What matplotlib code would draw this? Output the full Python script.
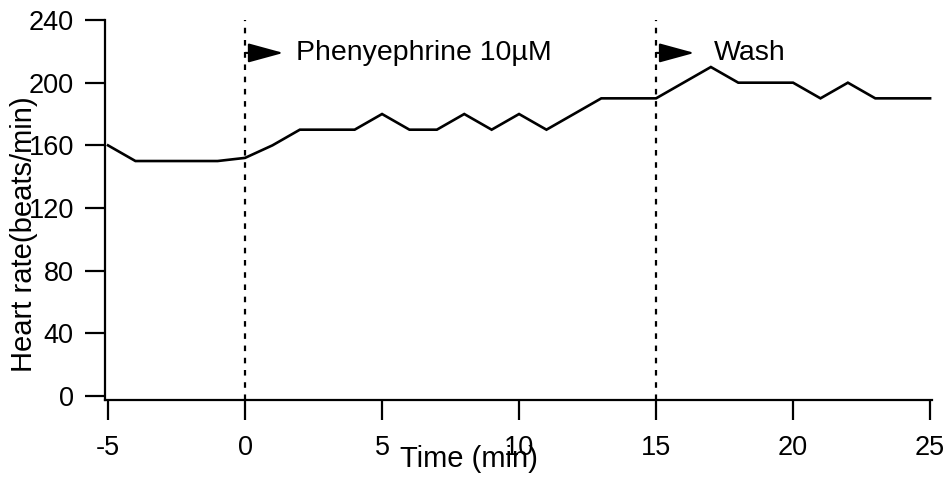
'''Heart rate response to phenylephrine'''

import matplotlib
matplotlib.use('Agg')
import matplotlib.pyplot as plt

plt.rcParams['font.family'] = ['Liberation Sans', 'DejaVu Sans']

# time in minutes, one sample per minute
time_min = list(range(-5, 26))
heart_rate = [160, 150, 150, 150, 150, 152, 160, 170, 170, 170,
              180, 170, 170, 180, 170, 180, 170, 180, 190, 190,
              190, 200, 210, 200, 200, 200, 190, 200, 190, 190, 190]

# events: (time, label, text offset in min)
event_times = [0, 15]
event_labels = ['Phenyephrine 10\u00b5M', 'Wash']
label_offsets = [1.85, 2.1]
arrow_len = 1.4
label_y = 219

x_ticks = [-5, 0, 5, 10, 15, 20, 25]
y_ticks = [0, 40, 80, 120, 160, 200, 240]

fig = plt.figure(figsize=(9.52, 4.82), dpi=100)
ax = fig.add_axes([0.1103, 0.170, 0.979 - 0.1103, 0.9585 - 0.170])

ax.plot(time_min, heart_rate, color='black', lw=1.9, solid_joinstyle='miter')

for t, lab, off in zip(event_times, event_labels, label_offsets):
    ax.plot([t, t], [-2.55, 240], color='black', lw=1.6, dashes=(2.5, 3.0))
    ax.annotate('', xy=(t + arrow_len, label_y), xytext=(t, label_y),
                arrowprops=dict(arrowstyle='-|>,head_length=2.2,head_width=0.6',
                                color='black', lw=1.5, shrinkA=0, shrinkB=0,
                                mutation_scale=10))
    ax.text(t + off, label_y, lab, fontsize=20.5, ha='left', va='center')

ax.set_xlim(-5.11, 25.07)
ax.set_ylim(-2.55, 240)
ax.set_xticks(x_ticks)
ax.set_yticks(y_ticks)
ax.set_xticklabels([str(v) for v in x_ticks])

for side in ['top', 'right']:
    ax.spines[side].set_visible(False)
for side in ['left', 'bottom']:
    ax.spines[side].set_linewidth(1.6)

ax.tick_params(axis='both', direction='out', length=14.5, width=1.6,
               labelsize=19.5, pad=8)
ax.tick_params(axis='x', pad=11)

ax.set_xlabel('Time (min)', fontsize=21)
ax.set_ylabel('Heart rate(beats/min)', fontsize=21)
ax.xaxis.set_label_coords(0.44, -0.118)
ax.yaxis.set_label_coords(-0.081, 0.437)

fig.savefig('out.png', dpi=100)
